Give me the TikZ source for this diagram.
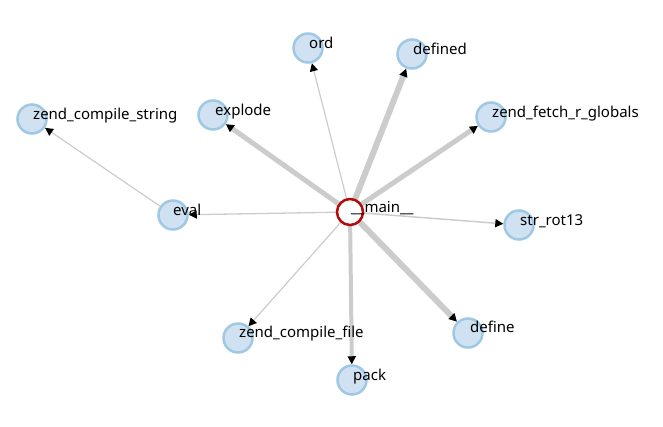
\documentclass[tikz,border=0pt]{standalone}
\usepackage{fontspec}
\setmainfont{Noto Sans}
\usetikzlibrary{arrows.meta}
\definecolor{nodefill}{HTML}{D0E2F2}
\definecolor{nodeline}{HTML}{9EC8E3}
\definecolor{edgegray}{HTML}{CCCCCC}
\definecolor{mainred}{HTML}{B20A0A}
\tikzset{
  fn/.style={circle, draw=nodeline, fill=nodefill, line width=2.5pt, minimum size=29pt, inner sep=0pt},
  mainnode/.style={circle, draw=mainred, fill=white, line width=2.5pt, minimum size=26pt, inner sep=0pt},
  lbl/.style={anchor=west, inner sep=0pt, font=\fontsize{15pt}{17pt}\selectfont, text height=11pt, text depth=3pt},
  edge/.style={draw=edgegray, -{Triangle[length=8pt,width=8pt,fill=black,color=black]}},
}
\begin{document}
\begin{tikzpicture}[x=1pt,y=-1pt]
\useasboundingbox (0,0) rectangle (663,426);
% nodes
\node[fn] (ord) at (308,48) {};
\node[fn] (defined) at (412,54) {};
\node[fn] (explode) at (213,115) {};
\node[fn] (zcs) at (32,119) {};
\node[fn] (zfrg) at (491,117) {};
\node[fn] (eval) at (173,215) {};
\node[fn] (rot) at (519,225) {};
\node[fn] (zcf) at (238,338) {};
\node[fn] (pack) at (352,380) {};
\node[fn] (define) at (468,333) {};
% edges (under main)
\path[edge, line width=1.2pt] (350,212) -- (ord);
\path[edge, line width=6pt] (350,212) -- (defined);
\path[edge, line width=5pt] (350,212) -- (explode);
\path[edge, line width=5pt] (350,212) -- (zfrg);
\path[edge, line width=1.3pt] (350,212) -- (eval);
\path[edge, line width=1.5pt] (350,212) -- (rot);
\path[edge, line width=1.2pt] (350,212) -- (zcf);
\path[edge, line width=4pt] (350,212) -- (pack);
\path[edge, line width=6pt] (350,212) -- (define);
\path[edge, line width=1.2pt] (eval) -- (zcs);
\node[mainnode] (main) at (350,212) {};
% labels
\node[lbl] (ord-l) at (309,44) {ord};
\node[lbl] (defined-l) at (413,50) {defined};
\node[lbl] (explode-l) at (215,111) {explode};
\node[lbl] (zcs-l) at (33,115) {zend\_compile\_string};
\node[lbl] (zfrg-l) at (492,113) {zend\_fetch\_r\_globals};
\node[lbl] (eval-l) at (173,211) {eval};
\node[lbl] (rot-l) at (520,221) {str\_rot13};
\node[lbl] (zcf-l) at (239,333) {zend\_compile\_file};
\node[lbl] (pack-l) at (353,376) {pack};
\node[lbl] (define-l) at (470,328) {define};
\node[lbl] (main-l) at (351,208) {\_\_main\_\_};
\end{tikzpicture}
\end{document}
